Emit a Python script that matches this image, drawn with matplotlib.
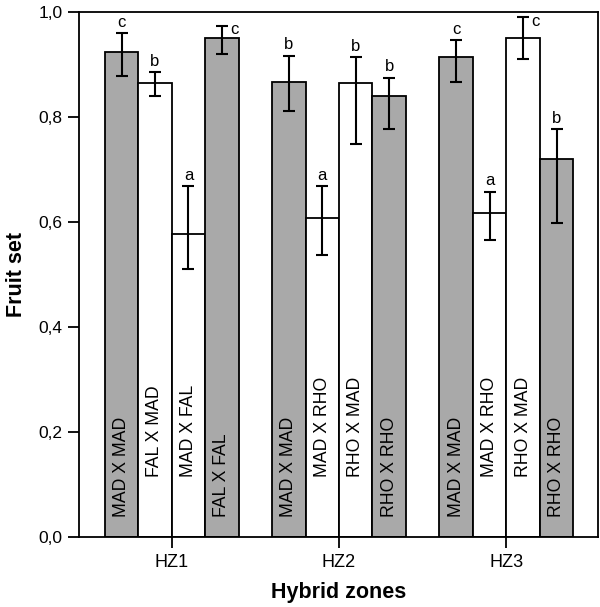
import numpy as np
import matplotlib
matplotlib.use("Agg")
import matplotlib.pyplot as plt

plt.rcParams["font.family"] = ["Liberation Sans", "DejaVu Sans"]

zones = ["HZ1", "HZ2", "HZ3"]
crosses = [
    ["MAD X MAD", "FAL X MAD", "MAD X FAL", "FAL X FAL"],
    ["MAD X MAD", "MAD X RHO", "RHO X MAD", "RHO X RHO"],
    ["MAD X MAD", "MAD X RHO", "RHO X MAD", "RHO X RHO"],
]
fruit_set = [
    [0.924, 0.865, 0.578, 0.951],
    [0.867, 0.607, 0.864, 0.839],
    [0.914, 0.617, 0.951, 0.719],
]
err_low = [
    [0.046, 0.026, 0.068, 0.032],
    [0.056, 0.070, 0.115, 0.062],
    [0.047, 0.051, 0.041, 0.121],
]
err_high = [
    [0.036, 0.020, 0.091, 0.023],
    [0.050, 0.062, 0.050, 0.036],
    [0.033, 0.041, 0.039, 0.058],
]
letters = [
    ["c", "b", "a", "c"],
    ["b", "a", "b", "b"],
    ["c", "a", "c", "b"],
]
# pure (within-species) crosses are grey, hybrid crosses white
grey_bar = [
    [True, False, False, True],
    [True, False, False, True],
    [True, False, False, True],
]

fig = plt.figure(figsize=(6.0, 6.07), dpi=100)
ax = fig.add_axes([0.1317, 0.1153, 0.865, 0.865])

width = 1.0
group_step = 5.0
offsets = np.array([-1.5, -0.5, 0.5, 1.5]) * width

for g, zone in enumerate(zones):
    xs = g * group_step + offsets
    vals = np.array(fruit_set[g])
    colors = ["#a9a9a9" if c else "white" for c in grey_bar[g]]
    ax.bar(xs, vals, width=width, color=colors, edgecolor="black", linewidth=1.3, zorder=2)
    ax.errorbar(xs, vals, yerr=[err_low[g], err_high[g]], fmt="none", ecolor="black",
                elinewidth=1.5, capsize=4, capthick=1.5, zorder=3)
    for x, v, hi, lab, name, grey in zip(xs, vals, err_high[g], letters[g], crosses[g], grey_bar[g]):
        top = v + hi
        if top > 0.965:
            ax.text(x + 0.25, top - 0.008, lab, ha="left", va="center", fontsize=12)
        else:
            ax.text(x, top + 0.006, lab, ha="center", va="bottom", fontsize=12)
        # labels in white bars sit higher up
        ax.text(x, 0.038 if grey else 0.115, name, rotation=90, ha="center", va="bottom",
                fontsize=12.7)

ax.set_xlim(-2.77, 12.74)
ax.set_ylim(0, 1.0)
ax.set_xticks([g * group_step for g in range(len(zones))])
ax.set_xticklabels(zones, fontsize=13)
ax.set_yticks([0, 0.2, 0.4, 0.6, 0.8, 1.0])
ax.set_yticklabels([f"{t:.1f}".replace(".", ",") for t in [0, 0.2, 0.4, 0.6, 0.8, 1.0]], fontsize=12.5)
ax.tick_params(direction="out", length=8, width=1.3, pad=4)
for s in ax.spines.values():
    s.set_linewidth(1.3)

ax.set_xlabel("Hybrid zones", fontsize=15.5, fontweight="bold", labelpad=8)
ax.set_ylabel("Fruit set", fontsize=15.5, fontweight="bold", labelpad=8)

fig.savefig("out.png", dpi=100)
